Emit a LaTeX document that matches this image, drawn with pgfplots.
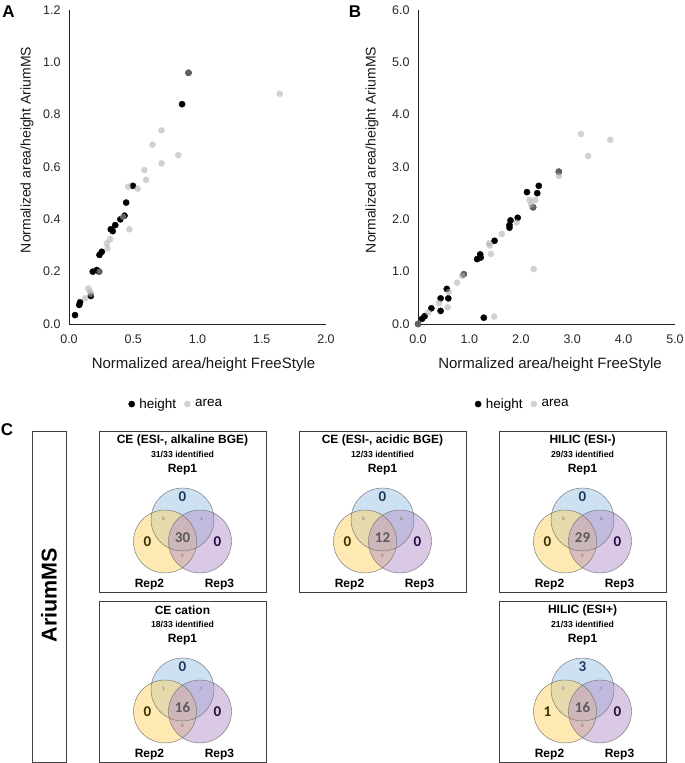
\documentclass[border=0pt]{standalone}
\usepackage{pgfplots}
\pgfplotsset{compat=1.18}
\usepackage{fontspec}
\setmainfont{Liberation Sans}
\newfontfamily\carlito{Carlito}
\definecolor{vblue}{HTML}{9CC3E8}
\definecolor{vyellow}{HTML}{FBD463}
\definecolor{vpurple}{HTML}{B693CB}
\definecolor{nblue}{HTML}{1F3A5F}
\definecolor{nyellow}{HTML}{3D3000}
\definecolor{npurple}{HTML}{2A0A40}

\pgfplotsset{
  sc/.style={
    scale only axis, anchor=origin,
    axis lines=left, axis line style={-, black!85, line width=0.9pt},
    major tick length=0pt, enlargelimits=false,
    tick label style={font=\fontsize{12.5}{14}\selectfont, text=black!85},
    /pgf/number format/assume math mode=true,
    /pgf/number format/.cd, fixed, fixed zerofill, precision=1, /pgfplots/.cd,
    xticklabel style={yshift=-7pt},
    yticklabel style={xshift=-5pt},
    legend style={draw=none, fill=none, font=\fontsize{13.5}{15}\selectfont, legend columns=2,
      /tikz/every odd column/.append style={column sep=2.5pt},
      /tikz/every even column/.append style={column sep=6pt}},
    legend cell align=left,
  },
  hgt/.style={only marks, mark=*, mark size=3.1pt, mark options={draw=black, fill=black, line width=0.4pt}},
  ara/.style={only marks, mark=*, mark size=3.3pt, mark options={draw=black!32, draw opacity=0, fill=black!32, fill opacity=0.56}},
}

\newcommand{\vennbox}[4]{%
  \draw[black!75, line width=0.9pt] (#1,{763-#2}) rectangle ({#1+167},{763-#2-161});
  \node[font=\fontsize{12}{14}\selectfont\bfseries] at ({#1+83.5},{763-#2-9}) {#3};
  \node[font=\fontsize{8.7}{10}\selectfont\bfseries] at ({#1+83.5},{763-#2-23}) {#4};
  \node[font=\fontsize{12}{14}\selectfont\bfseries] at ({#1+83.5},{763-#2-39}) {Rep1};
  \node[font=\fontsize{12}{14}\selectfont\bfseries] at ({#1+50.5},{763-#2-154}) {Rep2};
  \node[font=\fontsize{12}{14}\selectfont\bfseries] at ({#1+120.5},{763-#2-154}) {Rep3};
}
\newcommand{\vennnums}[9]{%
  \begin{scope}[shift={({#1+83.5},{763-#2-88.5})}]
    \fill[vblue, fill opacity=0.5] (0,0) circle (31.5);
    \fill[vyellow, fill opacity=0.5] (-17.5,-22) circle (31.5);
    \fill[vpurple, fill opacity=0.5] (17.5,-22) circle (31.5);
    \draw[black!55, line width=0.45pt] (0,0) circle (31.5) (-17.5,-22) circle (31.5) (17.5,-22) circle (31.5);
    \node[font=\carlito\fontsize{15}{16}\selectfont\bfseries, text=nblue] at (0,22.5) {#3};
    \node[font=\carlito\fontsize{15}{16}\selectfont\bfseries, text=nyellow] at (-35,-22) {#4};
    \node[font=\carlito\fontsize{15}{16}\selectfont\bfseries, text=npurple] at (35,-22) {#5};
    \node[font=\carlito\fontsize{5}{6}\selectfont, text=black!60] at (-19,1) {#6};
    \node[font=\carlito\fontsize{5}{6}\selectfont, text=black!60] at (19,1) {#7};
    \node[font=\carlito\fontsize{5}{6}\selectfont, text=black!60] at (0,-36.5) {#8};
    \node[font=\carlito\fontsize{15}{16}\selectfont\bfseries, text=black!65] at (0,-18) {#9};
  \end{scope}
}

\begin{document}
\begin{tikzpicture}[x=1pt,y=1pt]
\useasboundingbox (0,0) rectangle (685,763);

% ---------- Panel A ----------
\begin{axis}[sc, at={(69pt,439pt)}, width=257pt, height=314pt,
  xmin=0, xmax=2, ymin=0, ymax=1.2,
  xtick={0,0.5,1,1.5,2}, ytick={0,0.2,0.4,0.6,0.8,1.0,1.2},
  legend style={at={(0.418,-0.255)}, anchor=center}]
\addplot[hgt] coordinates {
(0.93,0.96) (0.88,0.84) (0.497,0.528) (0.445,0.464) (0.432,0.414) (0.40,0.40)
(0.36,0.378) (0.325,0.362) (0.34,0.355) (0.255,0.276) (0.237,0.264) (0.185,0.20)
(0.216,0.206) (0.235,0.20) (0.17,0.107) (0.086,0.083) (0.08,0.073) (0.047,0.034)
};
\addlegendentry{height}
\addplot[ara] coordinates {
(0.93,0.96) (1.64,0.88) (0.72,0.74) (0.65,0.685) (0.85,0.645) (0.72,0.614)
(0.586,0.588) (0.60,0.551) (0.46,0.525) (0.534,0.517) (0.47,0.362) (0.32,0.324)
(0.294,0.308) (0.30,0.289) (0.42,0.41) (0.24,0.20) (0.15,0.136) (0.164,0.123)
(0.17,0.115) (0.125,0.098)
};
\addlegendentry{area}
\end{axis}

% ---------- Panel B ----------
\begin{axis}[sc, at={(418pt,439pt)}, width=257pt, height=314pt,
  xmin=0, xmax=5, ymin=0, ymax=6,
  xtick={0,1,2,3,4,5}, ytick={0,1,2,3,4,5,6},
  legend style={at={(0.408,-0.255)}, anchor=center}]
\addplot[hgt] coordinates {
(2.74,2.91) (2.35,2.64) (2.12,2.52) (2.32,2.50) (2.24,2.23) (1.94,2.03)
(1.80,1.98) (1.78,1.89) (1.78,1.84) (1.49,1.59) (1.21,1.33) (1.22,1.27)
(1.15,1.24) (0.89,0.95) (0.56,0.67) (0.59,0.49) (0.44,0.49) (0.44,0.25)
(0.26,0.30) (0.13,0.15) (0.08,0.10) (0,0) (1.28,0.12)
};
\addlegendentry{height}
\addplot[ara] coordinates {
(3.17,3.63) (3.74,3.52) (3.31,3.21) (2.74,2.91) (2.74,2.83) (2.17,2.37)
(2.28,2.37) (2.20,2.28) (2.24,2.23) (1.92,1.94) (1.63,1.72) (1.38,1.54)
(1.40,1.50) (1.42,1.34) (0.86,0.92) (0.89,0.95) (0.76,0.79) (2.25,1.05)
(0.60,0.61) (0.58,0.32) (0.41,0.40) (0.20,0.22) (0,0) (1.48,0.14)
};
\addlegendentry{area}
\end{axis}

% axis titles
\node[rotate=90, font=\fontsize{14}{16}\selectfont, text=black!90] at (27,613) {Normalized area/height AriumMS};
\node[rotate=90, font=\fontsize{14}{16}\selectfont, text=black!90] at (372,613) {Normalized area/height AriumMS};
\node[font=\fontsize{15}{17}\selectfont, text=black!90] at (203.5,398) {Normalized area/height FreeStyle};
\node[font=\fontsize{15}{17}\selectfont, text=black!90] at (550,398) {Normalized area/height FreeStyle};

% panel letters
\node[font=\fontsize{17}{19}\selectfont\bfseries] at (8.5,751) {A};
\node[font=\fontsize{17}{19}\selectfont\bfseries] at (355,751) {B};
\node[font=\fontsize{17}{19}\selectfont\bfseries] at (7,333) {C};

% ---------- Panel C ----------
\draw[black!75, line width=0.9pt] (32,{763-431}) rectangle (66,1);
\node[rotate=90, font=\fontsize{21.5}{24}\selectfont\bfseries] at (49,168) {AriumMS};

\vennbox{99}{431}{CE (ESI-, alkaline BGE)}{31/33 identified}
\vennnums{99}{431}{0}{0}{0}{0}{1}{0}{30}
\vennbox{99}{601}{CE cation}{18/33 identified}
\vennnums{99}{601}{0}{0}{0}{1}{1}{0}{16}
\vennbox{299}{431}{CE (ESI-, acidic BGE)}{12/33 identified}
\vennnums{299}{431}{0}{0}{0}{0}{0}{0}{12}
\vennbox{499}{431}{HILIC (ESI-)}{29/33 identified}
\vennnums{499}{431}{0}{0}{0}{0}{0}{0}{29}
\vennbox{499}{601}{HILIC (ESI+)}{21/33 identified}
\vennnums{499}{601}{3}{1}{0}{0}{1}{0}{16}
\end{tikzpicture}
\end{document}
